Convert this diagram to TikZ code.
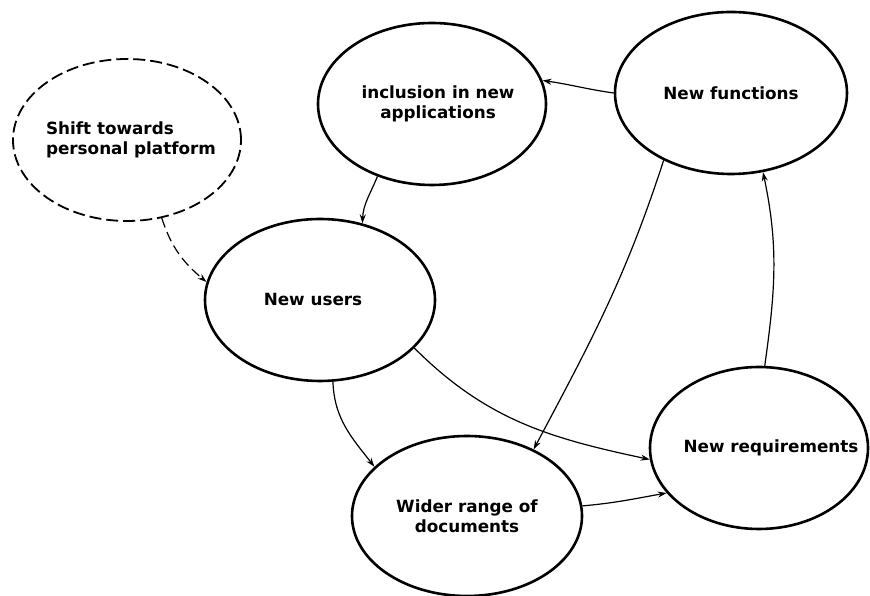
\documentclass[tikz,border=0pt]{standalone}
\usepackage{fontspec}
\setmainfont{DejaVu Sans}
\usetikzlibrary{shapes.geometric,arrows.meta}
\begin{document}
\begin{tikzpicture}[x=1pt,y=1pt,
  txt/.style={align=center,inner sep=0pt,font=\bfseries\fontsize{16.8}{20}\selectfont},
  bubble/.style={ellipse,draw=black,line width=2.6pt,inner sep=0pt},
  dbubble/.style={bubble,line width=1.8pt,dash pattern=on 12pt off 5pt},
  link/.style={line width=1.2pt,-{Stealth[length=9pt,width=6pt]}},
  dlink/.style={link,dash pattern=on 10pt off 5pt}]
\useasboundingbox (0,0) rectangle (870,596);
\fill[white] (0,0) rectangle (870,596);

\node[dbubble,minimum width=228pt,minimum height=162pt,
  label={[txt,align=left,xshift=4pt]center:Shift towards\\personal platform}] (shift) at (127,456) {};
\node[bubble,minimum width=228pt,minimum height=162pt,
  label={[txt,xshift=6pt]center:inclusion in new\\applications}] (incl) at (432,492) {};
\node[bubble,minimum width=232pt,minimum height=162pt,
  label={[txt]center:New functions}] (func) at (731,503) {};
\node[bubble,minimum width=230pt,minimum height=162pt,
  label={[txt,xshift=-7pt]center:New users}] (users) at (320,296) {};
\node[bubble,minimum width=230pt,minimum height=160pt,
  label={[txt]center:Wider range of\\documents}] (wider) at (467,80) {};
\node[bubble,minimum width=218pt,minimum height=162pt,
  label={[txt,xshift=12pt]center:New requirements}] (req) at (759,148) {};

\draw[dlink] (shift.-66) to[out=-72,in=140] (users.171);
\draw[link] (func.180) to[out=172,in=-8] (incl.12);
\draw[link] (incl.-127) to[out=-112,in=88] (users.61);
\draw[link] (users.-27) to[out=-45,in=168] (req.-174);
\draw[link] (users.-81) to[out=-88,in=128] (wider.152);
\draw[link] (func.-135) to[out=-108,in=62] (wider.45);
\draw[link] (wider.5.5) to[out=5,in=-170] (req.-154);
\draw[link] (req.86) to[out=82,in=-78] (func.-68);
\end{tikzpicture}
\end{document}
